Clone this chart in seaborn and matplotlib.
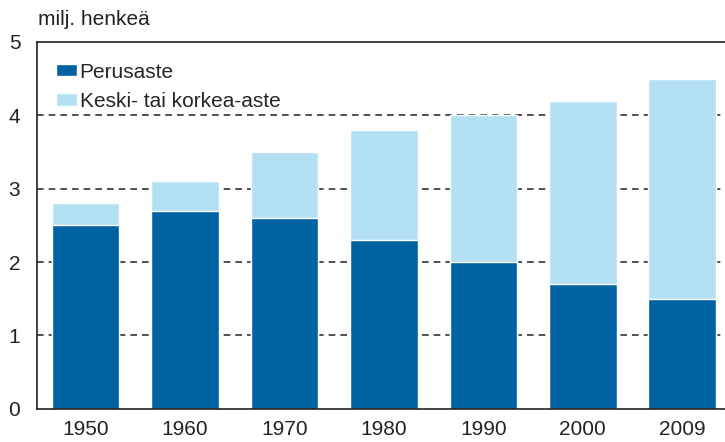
import matplotlib
matplotlib.use("Agg")
import matplotlib.pyplot as plt
import pandas as pd
import seaborn as sns

years = ["1950", "1960", "1970", "1980", "1990", "2000", "2009"]
perusaste = [2.5, 2.7, 2.6, 2.3, 2.0, 1.7, 1.5]
keski_korkea = [0.3, 0.4, 0.9, 1.5, 2.0, 2.5, 3.0]

DARK = "#0063a1"
LIGHT = "#b3e0f3"

sns.set_style("white")
plt.rcParams["font.family"] = ["Liberation Sans", "DejaVu Sans"]

df = pd.DataFrame({"year": years, "perus": perusaste, "keski": keski_korkea})
df["total"] = df["perus"] + df["keski"]

fig = plt.figure(figsize=(7.25, 4.42), dpi=100)
ax = fig.add_axes([0.051, 0.075, 0.949, 0.83])

sns.barplot(data=df, x="year", y="total", color=LIGHT, width=0.68, saturation=1,
            edgecolor="white", linewidth=1, label="Keski- tai korkea-aste", ax=ax)
sns.barplot(data=df, x="year", y="perus", color=DARK, width=0.68, saturation=1,
            edgecolor="white", linewidth=1, label="Perusaste", ax=ax)

ax.set_ylim(0, 5)
ax.set_xlim(-0.49, 6.43)
ax.set_yticks([0, 1, 2, 3, 4, 5])
ax.set_xlabel("")
ax.set_ylabel("")
ax.set_axisbelow(True)
for v in [1, 2, 3, 4]:
    ax.axhline(v, color="#333333", linestyle=(0, (4, 3)), linewidth=1.2, zorder=0)

for side in ["left", "bottom", "top"]:
    ax.spines[side].set_visible(True)
    ax.spines[side].set_color("#222222")
    ax.spines[side].set_linewidth(1.2)
ax.spines["right"].set_visible(False)
ax.tick_params(axis="both", length=0, labelsize=15, colors="#222222")
ax.tick_params(axis="y", pad=12)
ax.tick_params(axis="x", pad=8)

handles, labels = ax.get_legend_handles_labels()
order = [labels.index("Perusaste"), labels.index("Keski- tai korkea-aste")]
ax.legend([handles[i] for i in order], [labels[i] for i in order],
          loc="upper left", bbox_to_anchor=(0.0, 0.995), frameon=False,
          fontsize=15, handlelength=1.0, handleheight=0.55, handletextpad=0.15,
          labelspacing=0.5, borderaxespad=0.5)

fig.text(0.053, 0.955, "milj. henkeä", fontsize=15, color="#222222", va="center", ha="left")

fig.savefig("out.png", dpi=100)
